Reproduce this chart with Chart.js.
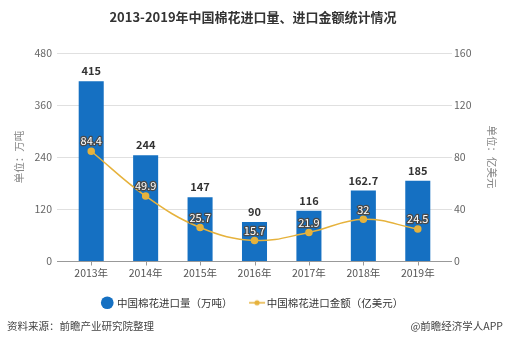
<!DOCTYPE html>
<html><head><meta charset="utf-8">
<script src="https://cdn.jsdelivr.net/npm/chart.js@4/dist/chart.umd.min.js"></script>
<style>html,body{margin:0;padding:0;background:#fff;}#wrap{width:506px;height:352px;position:relative;}</style>
</head><body><div id="wrap"><canvas id="c" width="506" height="352"></canvas></div>
<script>
const categories = ['2013年','2014年','2015年','2016年','2017年','2018年','2019年'];
const importVolume = [415, 244, 147, 90, 116, 162.7, 185];
const importValue = [84.4, 49.9, 25.7, 15.7, 21.9, 32, 24.5];
const leftTicks = [0, 120, 240, 360, 480];
const rightTicks = [0, 40, 80, 120, 160];
const seriesNames = ['中国棉花进口量（万吨）', '中国棉花进口金额（亿美元）'];
const chartTitle = '2013-2019年中国棉花进口量、进口金额统计情况';
const leftAxisTitle = '单位：万吨';
const rightAxisTitle = '单位：亿美元';
const sourceText = '资料来源：前瞻产业研究院整理';
const creditText = '@前瞻经济学人APP';

const FONT = "'Noto Sans CJK SC', 'Noto Sans', sans-serif";
const BLUE = '#1570c2';
const GOLD = '#e6b23c';
const EXT = 7;

const lineMarker = document.createElement('canvas');
lineMarker.width = 18; lineMarker.height = 8;
(function(){
  const g = lineMarker.getContext('2d');
  g.strokeStyle = GOLD; g.lineWidth = 1.5;
  g.beginPath(); g.moveTo(1,4); g.lineTo(17,4); g.stroke();
  g.fillStyle = GOLD; g.beginPath(); g.arc(9,4,2.6,0,Math.PI*2); g.fill();
})();

const decor = {
  id: 'decor',
  beforeDatasetsDraw(chart) {
    const {ctx, chartArea: a, scales} = chart;
    const y = scales.y;
    ctx.save();
    ctx.lineWidth = 1;
    leftTicks.forEach(v => {
      const py = Math.round(y.getPixelForValue(v)) + 0.5;
      ctx.strokeStyle = v === 0 ? '#999' : '#e0e0e0';
      ctx.beginPath(); ctx.moveTo(a.left - EXT, py); ctx.lineTo(a.right + EXT, py); ctx.stroke();
    });
    const x = scales.x;
    ctx.strokeStyle = '#999';
    const by = Math.round(y.getPixelForValue(0)) + 0.5;
    categories.forEach((c, i) => {
      const px = Math.round(x.getPixelForValue(i)) + 0.5;
      ctx.beginPath(); ctx.moveTo(px, by); ctx.lineTo(px, by + 4); ctx.stroke();
    });
    ctx.restore();
  },
  afterDatasetsDraw(chart) {
    const {ctx} = chart;
    ctx.save();
    ctx.textAlign = 'center';
    ctx.textBaseline = 'middle';
    ctx.font = "bold 11px " + FONT;
    ctx.fillStyle = '#333';
    chart.getDatasetMeta(1).data.forEach((el, i) => {
      ctx.fillText(String(importVolume[i]), el.x, el.y - 10);
    });
    ctx.font = "11px " + FONT;
    ctx.lineWidth = 2.5;
    ctx.strokeStyle = '#4a4a4a';
    ctx.lineJoin = 'round';
    ctx.fillStyle = '#fff';
    chart.getDatasetMeta(0).data.forEach((el, i) => {
      ctx.strokeText(String(importValue[i]), el.x, el.y - 10);
      ctx.fillText(String(importValue[i]), el.x, el.y - 10);
    });
    ctx.font = "bold 13px " + FONT;
    ctx.fillStyle = '#333';
    ctx.fillText(chartTitle, 253, 17);
    ctx.font = "10.5px " + FONT;
    ctx.fillStyle = '#444';
    ctx.textAlign = 'left';
    ctx.fillText(sourceText, 7, 326);
    ctx.textAlign = 'right';
    ctx.fillText(creditText, 503, 326);
    ctx.restore();
  }
};

new Chart(document.getElementById('c'), {
  data: {
    labels: categories,
    datasets: [
      {
        type: 'line', label: seriesNames[1], data: importValue, yAxisID: 'y1',
        borderColor: GOLD, backgroundColor: GOLD, borderWidth: 1.5,
        tension: 0.4, pointRadius: 3, pointHoverRadius: 3,
        pointBackgroundColor: GOLD, pointBorderColor: GOLD, order: 0
      },
      {
        type: 'bar', label: seriesNames[0], data: importVolume, yAxisID: 'y',
        backgroundColor: BLUE, barPercentage: 0.46, categoryPercentage: 1, order: 1
      }
    ]
  },
  options: {
    responsive: false, animation: false, devicePixelRatio: 1,
    layout: { padding: { top: 53, bottom: 34, left: 0, right: 0 } },
    plugins: {
      title: { display: false },
      tooltip: { enabled: false },
      legend: {
        position: 'bottom',
        labels: {
          font: { family: FONT, size: 10.5 }, color: '#333',
          usePointStyle: true, boxWidth: 9, boxHeight: 9, padding: 20,
          generateLabels(chart) {
            return [
              { text: seriesNames[0], fillStyle: BLUE, strokeStyle: BLUE, lineWidth: 0, pointStyle: 'circle', datasetIndex: 1, fontColor: '#333' },
              { text: seriesNames[1], fillStyle: GOLD, strokeStyle: GOLD, lineWidth: 0, pointStyle: lineMarker, datasetIndex: 0, fontColor: '#333' }
            ];
          }
        }
      }
    },
    scales: {
      x: {
        offset: true,
        afterFit(s) { s.height -= 8; },
        grid: { display: false, drawTicks: false },
        border: { display: false },
        ticks: { font: { family: FONT, size: 10.5 }, color: '#555', padding: 6 }
      },
      y: {
        position: 'left', min: 0, max: 480,
        afterBuildTicks(s) { s.ticks = leftTicks.map(v => ({ value: v })); },
        afterFit(s) { s.width = 64; },
        grid: { display: false, drawTicks: false },
        border: { display: false },
        ticks: { font: { family: FONT, size: 10.5 }, color: '#666', padding: 12 },
        title: { display: true, text: leftAxisTitle, color: '#888', font: { family: FONT, size: 10.5 }, padding: { top: 13, bottom: 0 } }
      },
      y1: {
        position: 'right', min: 0, max: 160,
        afterBuildTicks(s) { s.ticks = rightTicks.map(v => ({ value: v })); },
        afterFit(s) { s.width = 61; },
        grid: { display: false, drawTicks: false },
        border: { display: false },
        ticks: { font: { family: FONT, size: 10.5 }, color: '#666', padding: 9 },
        title: { display: true, text: rightAxisTitle, color: '#888', font: { family: FONT, size: 10.5 }, padding: { top: 8, bottom: 0 } }
      }
    }
  },
  plugins: [decor]
});
</script></body></html>
